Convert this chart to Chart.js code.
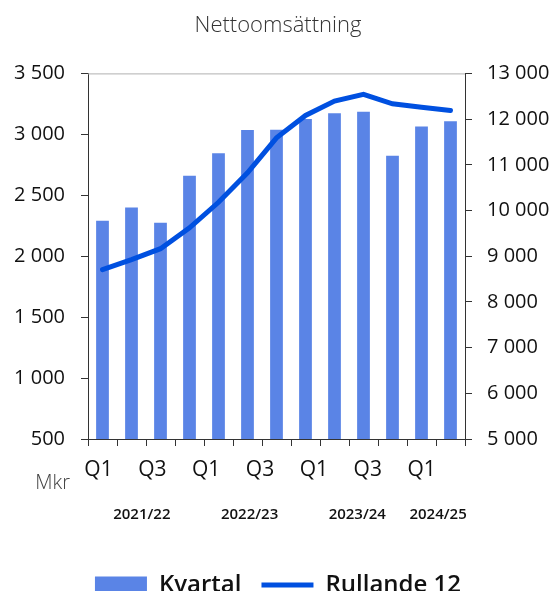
<!DOCTYPE html>
<html>
<head>
<meta charset="utf-8">
<script src="https://cdn.jsdelivr.net/npm/chart.js@4/dist/chart.umd.min.js"></script>
<style>
  html, body { margin: 0; padding: 0; background: #fff; overflow: hidden; }
  #wrap { width: 556px; height: 607px; }
</style>
</head>
<body>
<div id="wrap"><canvas id="sales-chart"></canvas></div>
<script>
// quarters, fiscal years run Q1..Q4
const quarters = ['Q1', 'Q2', 'Q3', 'Q4', 'Q1', 'Q2', 'Q3', 'Q4', 'Q1', 'Q2', 'Q3', 'Q4', 'Q1'];
const fiscalYears = ['2021/22', '2022/23', '2023/24', '2024/25'];
const kvartal = [2290, 2400, 2275, 2660, 2845, 3035, 3037, 3125, 3172, 3186, 2825, 3065, 3108];
const rullande12 = [8705, 8925, 9165, 9620, 10180, 10825, 11590, 12080, 12395, 12540, 12335, 12260, 12190];

const fmt = v => String(v).replace(/\B(?=(\d{3})+(?!\d))/g, ' ');

let extraText = {
    id: 'extraText',
    afterDraw(chart) {
        const ctx = chart.ctx;
        const xq = chart.scales.xq;
        const area = chart.chartArea;
        ctx.save();
        // thin top frame line
        ctx.strokeStyle = '#b0b0b0';
        ctx.lineWidth = 1;
        ctx.beginPath();
        ctx.moveTo(area.left, area.top + 0.5);
        ctx.lineTo(area.right, area.top + 0.5);
        ctx.stroke();

        // fiscal year labels under the quarter labels
        ctx.fillStyle = '#111';
        ctx.font = '600 15px "Open Sans"';
        ctx.textAlign = 'center';
        ctx.textBaseline = 'middle';
        fiscalYears.forEach((fy, i) => {
            const first = i * 4;
            const last = Math.min(first + 3, quarters.length);
            const px = (xq.getPixelForValue(first) + xq.getPixelForValue(last)) / 2;
            ctx.fillText(fy, px, area.bottom + 76);
        });

        // unit
        ctx.fillStyle = '#444';
        ctx.font = '300 20px "Open Sans"';
        ctx.textAlign = 'right';
        ctx.fillText('Mkr', area.left - 18, area.bottom + 44);
        ctx.restore();
    }
};

let canvas = document.getElementById('sales-chart');
let salesChart = new Chart(canvas, {
    data: {
        labels: quarters,
        datasets: [{
            type: 'line',
            label: 'Rullande 12',
            data: rullande12,
            yAxisID: 'y1',
            borderColor: '#0050e0',
            backgroundColor: '#0050e0',
            borderWidth: 5,
            borderCapStyle: 'round',
            pointRadius: 0,
            pointStyle: 'line',
            tension: 0,
            order: 0
        }, {
            type: 'bar',
            label: 'Kvartal',
            data: kvartal,
            yAxisID: 'y',
            backgroundColor: '#5a84e6',
            barPercentage: 0.44,
            categoryPercentage: 1,
            pointStyle: 'rect',
            order: 1
        }]
    },
    options: {
        responsive: true,
        maintainAspectRatio: false,
        animation: false,
        layout: { padding: 0 },
        plugins: {
            title: {
                display: true,
                text: 'Nettoomsättning',
                color: '#333',
                font: { family: 'Open Sans', size: 22, weight: 300 },
                padding: { top: 13, bottom: 34 }
            },
            legend: {
                position: 'bottom',
                reverse: true,
                labels: {
                    usePointStyle: true,
                    pointStyleWidth: 52,
                    boxHeight: 17,
                    padding: 20,
                    color: '#111',
                    font: { family: 'Open Sans', size: 24, weight: 600 }
                }
            },
            tooltip: { enabled: false }
        },
        scales: {
            x: {
                grid: { drawOnChartArea: false, tickLength: 7, color: '#333' },
                border: { color: '#333' },
                ticks: { display: false },
                afterFit: s => { s.height = 7; }
            },
            // label axis for the quarter names
            xq: {
                type: 'linear',
                position: 'bottom',
                min: -0.5,
                max: quarters.length + 0.5,
                grid: { display: false, drawTicks: false },
                border: { display: false },
                afterBuildTicks: s => {
                    s.ticks = quarters.map((q, i) => ({ value: i })).filter(t => t.value % 2 === 0);
                },
                ticks: {
                    autoSkip: false,
                    maxRotation: 0,
                    padding: 11,
                    labelOffset: -3,
                    color: '#111',
                    font: { family: 'Open Sans', size: 21, weight: 500 },
                    callback: v => quarters[v]
                },
                afterFit: s => { s.height = 107; }
            },
            y: {
                position: 'left',
                min: 500,
                max: 3500,
                grid: { drawOnChartArea: false, tickLength: 7, color: '#333' },
                border: { color: '#333' },
                ticks: {
                    stepSize: 500,
                    padding: 16,
                    color: '#111',
                    font: { family: 'Open Sans', size: 20, weight: 500 },
                    callback: v => fmt(v)
                },
                afterFit: s => { s.width = 88; }
            },
            y1: {
                position: 'right',
                min: 5000,
                max: 13000,
                grid: { drawOnChartArea: false, tickLength: 7, color: '#333' },
                border: { color: '#333' },
                ticks: {
                    stepSize: 1000,
                    padding: 15,
                    color: '#111',
                    font: { family: 'Open Sans', size: 20, weight: 500 },
                    callback: v => fmt(v)
                },
                afterFit: s => { s.width = 91; }
            }
        }
    },
    plugins: [extraText]
});
window.salesChart = salesChart;
</script>
</body>
</html>
